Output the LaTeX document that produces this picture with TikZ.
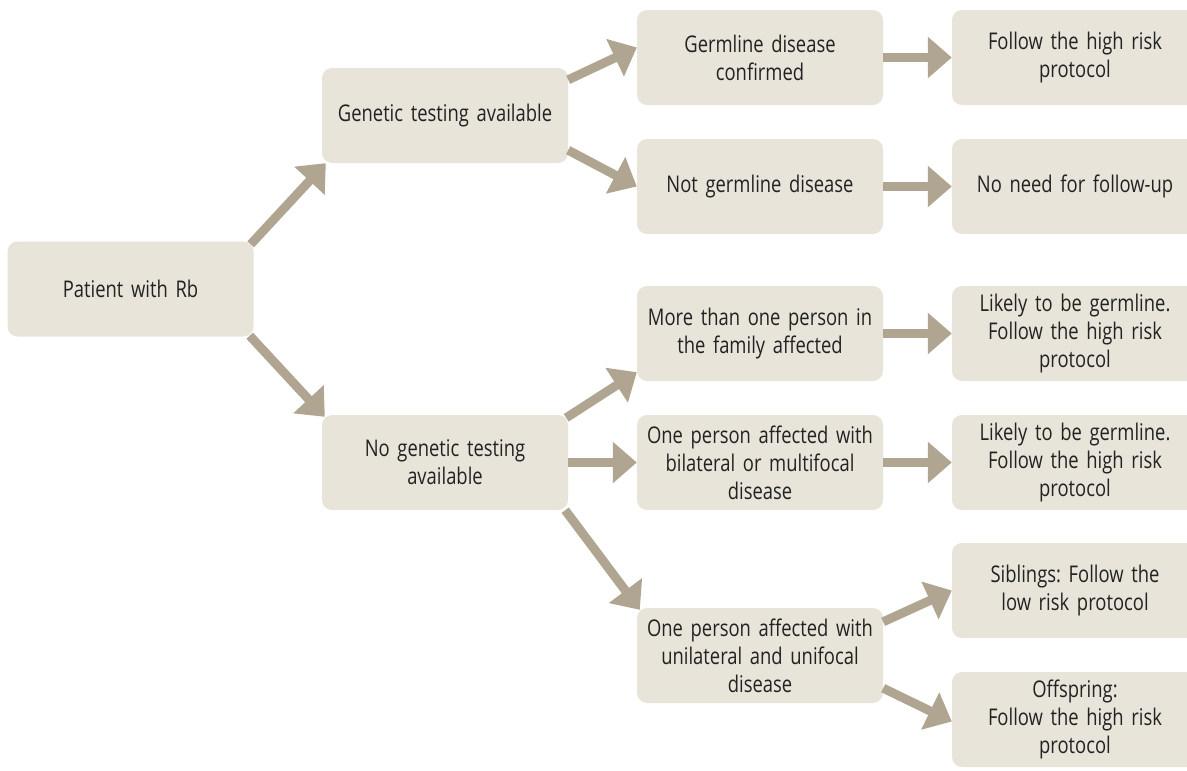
\documentclass[tikz,border=0pt]{standalone}
\usepackage{fontspec}
\setmainfont{Open Sans}[FakeStretch=0.8]
\usetikzlibrary{arrows.meta}
\definecolor{boxfill}{HTML}{E8E4D9}
\definecolor{arrowc}{HTML}{AFA590}
\definecolor{txt}{HTML}{222222}
\frenchspacing
\begin{document}
\begin{tikzpicture}[x=1pt,y=-1pt,
  box/.style={fill=boxfill, rounded corners=10pt, minimum width=246pt, minimum height=95pt,
    inner sep=0pt, align=center, text width=244pt, font=\fontsize{23}{28}\selectfont, text=txt},
  arr/.style={draw=arrowc, line width=9pt, -{Triangle[width=40pt,length=24pt]}}]
\useasboundingbox (0,0) rectangle (1187,771);
\clip (0,0) rectangle (1187,771);

\node[box] (pat)  at (130.5,289)  {Patient with Rb};
\node[box] (gen)  at (445,115.5)  {Genetic testing available};
\node[box] (nog)  at (445,462.5)  {No genetic testing\\available};

\node[box] (germ) at (760,57.5)   {Germline disease\\confirmed};
\node[box] (notg) at (760,186.5)  {Not germline disease};
\node[box] (more) at (760,333.5)  {More than one person in\\the family affected};
\node[box] (bil)  at (760,462.5)  {One person affected with\\bilateral or multifocal\\disease};
\node[box] (uni)  at (760,655.5)  {One person affected with\\unilateral and unifocal\\disease};

\node[box] (fol)  at (1075,57.5)  {Follow the high risk\\protocol};
\node[box] (nn)   at (1075,186.5) {No need for follow-up};
\node[box] (lk1)  at (1075,333.5) {Likely to be germline.\\Follow the high risk\\protocol};
\node[box] (lk2)  at (1075,462.5) {Likely to be germline.\\Follow the high risk\\protocol};
\node[box] (sib)  at (1075,590.5) {Siblings: Follow the\\low risk protocol};
\node[box] (off)  at (1075,719.5) {Offspring:\\Follow the high risk\\protocol};

\draw[arr] ([xshift=-3pt,yshift=-3pt]pat.north east) -- ([xshift=4pt]gen.south west);
\draw[arr] ([xshift=-4pt,yshift=1pt]pat.south east) -- ([xshift=3pt,yshift=-2pt]nog.north west);

\draw[arr] ([yshift=-12pt]gen.north east) -- ([yshift=10pt]germ.west);
\draw[arr] ([yshift=13pt]gen.south east) -- (notg.west);

\draw[arr] ([xshift=-2pt,yshift=-3pt]nog.north east) -- ([yshift=9pt]more.south west);
\draw[arr] (nog.east) -- (bil.west);
\draw[arr] ([xshift=-3pt]nog.south east) -- ([xshift=3pt,yshift=-2pt]uni.north west);

\draw[arr] (germ.east) -- (fol.west);
\draw[arr] (notg.east) -- (nn.west);
\draw[arr] (more.east) -- (lk1.west);
\draw[arr] (bil.east) -- (lk2.west);
\draw[arr] ([yshift=-14pt]uni.north east) -- (sib.west);
\draw[arr] ([yshift=15pt]uni.south east) -- ([yshift=-2pt]off.west);
\end{tikzpicture}
\end{document}
